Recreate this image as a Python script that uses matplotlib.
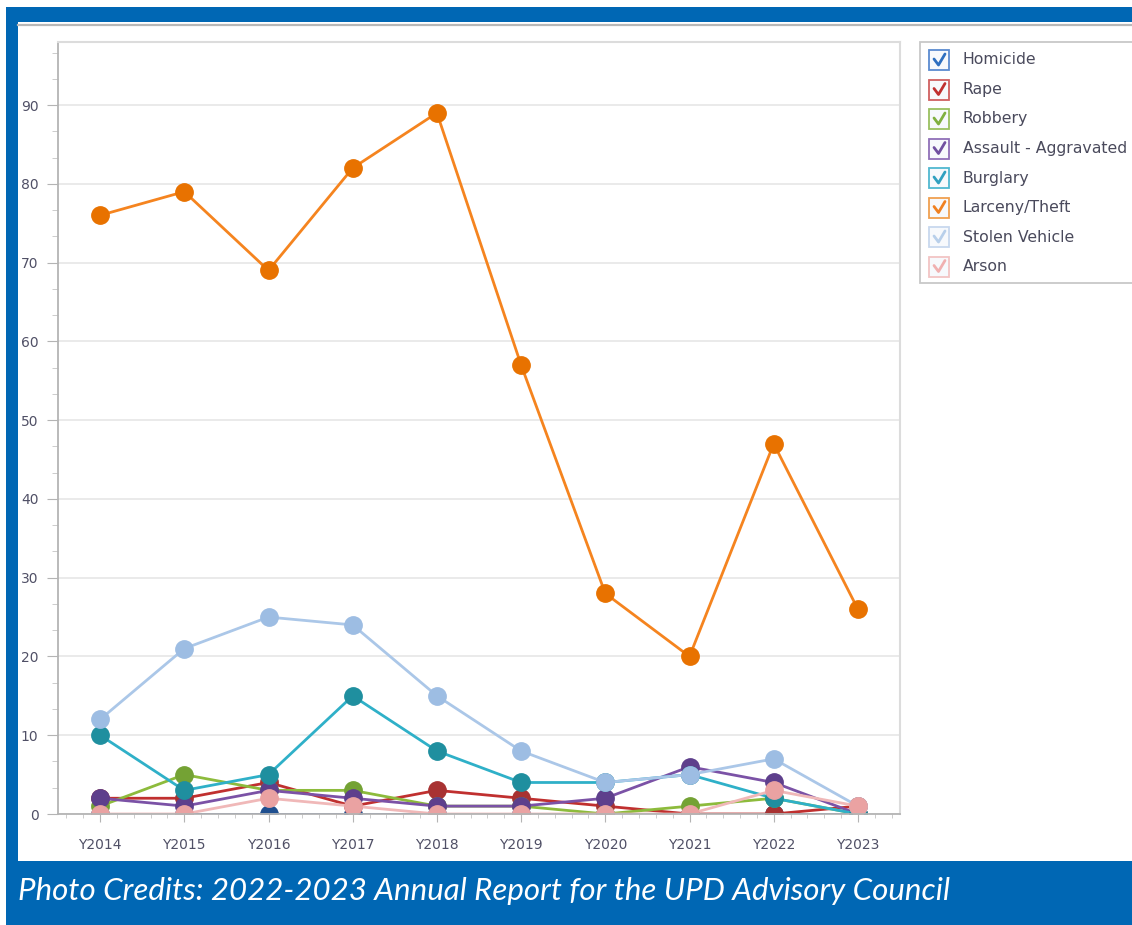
import matplotlib
matplotlib.use("Agg")
import matplotlib.pyplot as plt
from matplotlib.patches import Rectangle
from matplotlib.lines import Line2D
from matplotlib.ticker import MultipleLocator

years = ["Y2014", "Y2015", "Y2016", "Y2017", "Y2018", "Y2019", "Y2020", "Y2021", "Y2022", "Y2023"]
series_names = ["Homicide", "Rape", "Robbery", "Assault - Aggravated", "Burglary",
                "Larceny/Theft", "Stolen Vehicle", "Arson"]
homicide = [0, 0, 0, 0, 0, 0, 0, 0, 0, 0]
rape = [2, 2, 4, 1, 3, 2, 1, 0, 0, 1]
robbery = [1, 5, 3, 3, 1, 1, 0, 1, 2, 0]
assault = [2, 1, 3, 2, 1, 1, 2, 6, 4, 0]
burglary = [10, 3, 5, 15, 8, 4, 4, 5, 2, 0]
larceny = [76, 79, 69, 82, 89, 57, 28, 20, 47, 26]
stolen_vehicle = [12, 21, 25, 24, 15, 8, 4, 5, 7, 1]
arson = [0, 0, 2, 1, 0, 0, 0, 0, 3, 1]
y_ticks = [0, 10, 20, 30, 40, 50, 60, 70, 80, 90]
caption = "Photo Credits: 2022-2023 Annual Report for the UPD Advisory Council"

data = [homicide, rape, robbery, assault, burglary, larceny, stolen_vehicle, arson]
line_colors = ['#2f5d9e', '#c0302f', '#8dbb3c', '#7b52a6', '#2fb0c8', '#f5841f', '#abc7e8', '#f0b8b8']
marker_colors = ['#1f4f8f', '#a83232', '#74a234', '#5e3f8c', '#1f8f9f', '#e87200', '#9dbde3', '#eaa2a2']
box_colors = ['#5b8bd0', '#d06060', '#9ac060', '#9070b8', '#50b8d0', '#f0a050', '#c8d8ee', '#f2c4c4']
check_colors = ['#2e6fc0', '#c03030', '#80b040', '#7050a0', '#30a0c0', '#f08020', '#b8cfea', '#f0b0b0']

W, H = 1132, 925
BLUE = '#0067b4'
fig = plt.figure(figsize=(W / 100, H / 100), dpi=100)
fig.patch.set_facecolor('white')

def fx(x):
    return x / W

def fy(y):
    return 1 - y / H

# Blue frame
fig.patches.append(Rectangle((fx(6), fy(22)), fx(W), 15 / H, transform=fig.transFigure,
                             facecolor=BLUE, edgecolor='none', zorder=0))
fig.patches.append(Rectangle((fx(6), 0), 12 / W, 1 - 7 / H, transform=fig.transFigure,
                             facecolor=BLUE, edgecolor='none', zorder=0))
fig.patches.append(Rectangle((fx(6), 0), 1, (H - 861) / H, transform=fig.transFigure,
                             facecolor=BLUE, edgecolor='none', zorder=0))
fig.lines.append(Line2D([fx(18), 1], [fy(24.5), fy(24.5)], transform=fig.transFigure,
                        color='#b8b8b8', lw=1.6))

ax = fig.add_axes([fx(58), fy(814), fx(900) - fx(58), fy(42) - fy(814)])
x = list(range(len(years)))
for vals, lc, mc in zip(data, line_colors, marker_colors):
    ax.plot(x, vals, color=lc, lw=2.0, marker='o', markersize=12.5,
            markerfacecolor=mc, markeredgecolor=mc, solid_joinstyle='round')

ax.set_xlim(-0.5, 9.5)
ax.set_ylim(0, 98)
ax.set_xticks(x)
ax.set_xticklabels(years)
ax.set_yticks(y_ticks)
ax.xaxis.set_minor_locator(MultipleLocator(0.2))
ax.yaxis.set_minor_locator(MultipleLocator(10 / 3))
ax.grid(axis='y', color='#e6e6e6', lw=1.2)
ax.set_axisbelow(True)
for s in ['top', 'right']:
    ax.spines[s].set_color('#dcdcdc')
    ax.spines[s].set_linewidth(1.5)
for s in ['left', 'bottom']:
    ax.spines[s].set_color('#b4b4b4')
    ax.spines[s].set_linewidth(1.3)
ax.tick_params(axis='y', which='major', length=8, color='#b4b4b4', labelsize=10,
               labelcolor='#505066', pad=6)
ax.tick_params(axis='y', which='minor', length=4, color='#c4c4c4')
ax.tick_params(axis='x', which='major', length=6, color='#b4b4b4', labelsize=10,
               labelcolor='#505066', pad=11)
ax.tick_params(axis='x', which='minor', length=3, color='#c4c4c4')
for lab in ax.get_xticklabels() + ax.get_yticklabels():
    lab.set_family('DejaVu Sans')

# Legend
fig.patches.append(Rectangle((fx(920), fy(283)), fx(240), (283 - 42) / H, transform=fig.transFigure,
                             facecolor='white', edgecolor='#c8c8c8', lw=1.3, zorder=3))
row_y = [60, 89.5, 119, 148.5, 178, 207.5, 237, 266.5]
for name, yy, bc, cc in zip(series_names, row_y, box_colors, check_colors):
    fig.patches.append(Rectangle((fx(929), fy(yy + 10)), 20 / W, 20 / H, transform=fig.transFigure,
                                 facecolor='#f7f9fc', edgecolor=bc, lw=1.3, zorder=4))
    fig.lines.append(Line2D([fx(934), fx(938.5), fx(945)], [fy(yy - 1), fy(yy + 5), fy(yy - 6)],
                            transform=fig.transFigure, color=cc, lw=2.0, zorder=5,
                            solid_capstyle='round', solid_joinstyle='round'))
    fig.text(fx(963), fy(yy), name, fontsize=11.3, color='#4a4a5c', va='center', ha='left',
             family='DejaVu Sans', zorder=5)

fig.text(fx(18), fy(891), caption, fontsize=22.5, color='white', style='italic',
         family='Lato', va='center', ha='left')

fig.savefig('out.png', dpi=100, facecolor='white')
